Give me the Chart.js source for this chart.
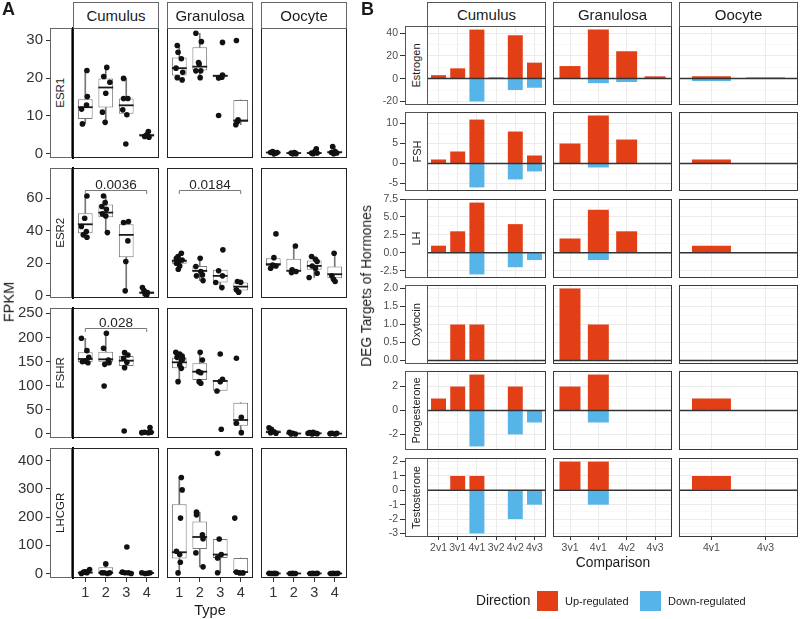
<!DOCTYPE html>
<html>
<head>
<meta charset="utf-8">
<script src="https://cdn.jsdelivr.net/npm/chart.js@4.4.1/dist/chart.umd.min.js"></script>
<style>
  body { margin: 0; background: #fff; }
  #fig { position: relative; width: 800px; height: 619px; overflow: hidden; background: #fff;
         font-family: "Liberation Sans", Arial, sans-serif; color: #1a1a1a; }
  #fig canvas { position: absolute; }
  .txt { position: absolute; white-space: nowrap; line-height: 1; }
  .strip { position: absolute; box-sizing: border-box; background: #fff; border: 1px solid #666;
           display: flex; align-items: center; justify-content: center; z-index: 2; }
  .strip span { white-space: nowrap; flex-shrink: 0; line-height: 1; }
  .strip.side span { transform: rotate(-90deg); }
  .key { position: absolute; width: 21px; height: 20px; }
</style>
</head>
<body>
<div id="fig"></div>
<script>
/* ---------------- Panel A: FPKM by follicle type ---------------- */
const types = [1, 2, 3, 4];
const tissues = ['Cumulus', 'Granulosa', 'Oocyte'];
const genes = ['ESR1', 'ESR2', 'FSHR', 'LHCGR'];
const geneYMin = [-1.1, -1.3, -8.3, -16];
const geneYMax = [33.2, 78.6, 261, 445];
const geneTicks = [[0, 10, 20, 30], [0, 20, 40, 60], [0, 50, 100, 150, 200, 250], [0, 100, 200, 300, 400]];

// box per type: [lower whisker, q1, median, q3, upper whisker]
const boxESR1 = {
    Cumulus: [[7.9, 9.2, 12.3, 14.4, 22.0], [8.3, 12.2, 17.5, 19.9, 22.8], [10.3, 10.6, 12.8, 14.6, 19.9], [4.4, 4.5, 4.9, 5.3, 5.9]],
    Granulosa: [[19.5, 20.7, 22.6, 25.4, 28.6], [20.1, 22.0, 23.0, 28.1, 31.8], [20.0, 20.2, 20.6, 20.8, 20.8], [7.7, 8.4, 8.8, 14.2, 14.2]],
    Oocyte: [[0.0, 0.15, 0.35, 0.45, 0.6], [0.0, 0.1, 0.2, 0.3, 0.35], [0.05, 0.1, 0.2, 0.5, 1.3], [0.05, 0.2, 0.4, 0.8, 1.9]]
};
const boxESR2 = {
    Cumulus: [[35.8, 38.5, 44.0, 50.8, 61.4], [38.9, 48.3, 51.2, 56.1, 61.4], [3.1, 23.8, 37.5, 44.0, 45.7], [0.6, 1.2, 2.0, 2.7, 3.3]],
    Granulosa: [[16.4, 19.7, 21.5, 22.5, 26.2], [9.4, 14.5, 15.4, 18.4, 23.1], [5.1, 8.2, 12.3, 16.0, 16.0], [2.3, 3.3, 5.7, 8.2, 8.8]],
    Oocyte: [[17.0, 18.4, 19.5, 23.1, 23.5], [14.3, 15.4, 15.4, 22.9, 30.7], [11.3, 16.0, 18.4, 21.7, 24.2], [8.8, 10.9, 13.3, 18.0, 26.2]]
};
const boxFSHR = {
    Cumulus: [[147, 148.5, 155.4, 169.2, 198.2], [144, 149.9, 154.7, 170.6, 208.6], [137.4, 140.9, 151.9, 161.6, 168.5], [2.8, 2.8, 3.5, 4.5, 6]],
    Granulosa: [[108.4, 136, 148.5, 158.1, 169.2], [105, 111.9, 129.1, 146.4, 169.2], [89, 89.8, 109.8, 111.9, 113.3], [2.8, 17.3, 29, 64.9, 64.9]],
    Oocyte: [[0.5, 2, 4, 8, 13], [0, 0.3, 1, 2, 3.5], [0, 0.5, 1.4, 2.5, 3.5], [0, 0.3, 0.8, 1.2, 1.4]]
};
const boxLHCGR = {
    Cumulus: [[0, 1, 3, 6, 14], [0, 1, 2.4, 22, 34], [0, 1, 2.4, 4.7, 4.7], [0, 0.5, 1.5, 2.4, 2.4]],
    Granulosa: [[2, 52.9, 75.3, 245.9, 340], [23.5, 87, 129.4, 184.7, 217.6], [2.4, 55.3, 67.1, 122.4, 122.4], [2, 2, 5, 55, 55]],
    Oocyte: [[0, 0, 0.2, 0.4, 0.5], [0, 0, 0.1, 0.3, 0.3], [0, 0, 0.2, 0.4, 0.5], [0, 0, 0.2, 0.4, 0.5]]
};

// jittered samples: [type + jitter, FPKM]
const ptsESR1 = {
    Cumulus: [[1.08, 22.0], [1.1, 15.1], [1.06, 12.9], [0.82, 11.8], [0.86, 7.9],
        [2.05, 22.8], [1.9, 20.4], [2.2, 18.9], [2.0, 16.0], [1.84, 11.0], [1.97, 8.3],
        [2.87, 19.9], [2.87, 14.6], [3.08, 14.6], [2.83, 11.6], [3.03, 10.3], [2.98, 2.6],
        [4.08, 5.9], [3.9, 4.6], [4.11, 4.4], [4.0, 5.0]],
    Granulosa: [[0.9, 28.6], [0.94, 26.8], [1.1, 25.1], [0.84, 22.6], [1.17, 21.5], [0.9, 20.1], [1.14, 19.5],
        [1.81, 31.8], [2.08, 29.6], [1.94, 24.1], [1.97, 23.7], [1.81, 21.9], [2.05, 21.9], [2.02, 20.1],
        [3.11, 29.4], [3.11, 20.8], [3.08, 20.2], [2.92, 20.0], [2.92, 10.1],
        [3.79, 29.9], [3.87, 9.0], [3.84, 8.5], [3.76, 7.7]],
    Oocyte: [[0.87, 0.35], [0.97, 0.6], [1.13, 0.2], [1.03, 0.0], [1.19, 0.35],
        [1.87, 0.2], [2.03, 0.35], [2.11, 0.05], [1.95, 0.0],
        [3.1, 1.3], [3.03, 0.6], [2.87, 0.2], [2.94, 0.05], [3.14, 0.2],
        [3.9, 1.9], [4.02, 0.6], [4.1, 0.2], [3.84, 0.35], [3.95, 0.05]]
};
const ptsESR2 = {
    Cumulus: [[1.08, 61.4], [0.97, 47.7], [0.81, 42.6], [1.05, 39.5], [0.9, 37.5], [1.08, 36.0],
        [1.89, 61.4], [1.97, 57.3], [1.81, 54.9], [2.03, 53.2], [1.84, 50.4], [2.0, 49.1], [2.08, 38.9],
        [2.87, 45.1], [3.11, 45.7], [3.08, 33.8], [2.98, 21.1], [2.95, 3.1],
        [3.79, 5.1], [3.87, 3.3], [4.03, 2.0], [3.92, 1.2], [4.0, 0.6]],
    Granulosa: [[1.1, 26.2], [0.94, 24.2], [0.86, 23.1], [1.14, 22.1], [0.98, 21.1], [0.86, 20.1], [1.02, 18.4], [0.95, 16.4],
        [2.02, 23.1], [1.81, 18.0], [2.05, 15.0], [2.13, 12.9], [1.84, 12.3], [2.16, 9.4],
        [3.13, 28.3], [2.92, 15.4], [3.11, 12.3], [2.78, 8.2], [3.08, 5.1],
        [3.84, 8.8], [4.0, 8.4], [3.79, 3.7], [3.9, 2.3]],
    Oocyte: [[1.13, 38.1], [1.03, 23.5], [0.87, 17.0], [0.97, 19.0], [1.13, 18.4],
        [2.08, 30.7], [1.92, 16.0], [1.89, 14.3], [2.11, 15.0],
        [2.87, 24.2], [3.06, 22.5], [3.14, 21.1], [2.9, 18.4], [3.06, 17.0], [3.14, 13.9], [2.75, 11.3],
        [3.97, 26.2], [3.86, 12.3], [3.94, 10.2], [4.02, 8.8]]
};
const ptsFSHR = {
    Cumulus: [[0.81, 198.2], [1.08, 172.7], [1.17, 159], [0.86, 149.5], [1.0, 151], [1.13, 147.5],
        [2.03, 208.6], [1.89, 177.5], [2.13, 153.3], [1.95, 144.3], [2.16, 147.8], [1.92, 99.4],
        [2.92, 168.5], [3.08, 163.7], [2.87, 156.8], [3.03, 148.5], [2.92, 137.4], [2.9, 6.2],
        [4.16, 13.1], [3.89, 3.5], [4.08, 2.8], [4.21, 3.5], [3.76, 2.8]],
    Granulosa: [[0.83, 169.2], [1.02, 165.7], [1.14, 161.6], [0.89, 158.8], [1.1, 152], [1.02, 143], [1.1, 136], [0.94, 108.4], [1.17, 156],
        [2.02, 169.2], [2.13, 153.3], [1.94, 129.1], [2.05, 127], [1.97, 108.4], [2.05, 105],
        [3.0, 165.7], [3.11, 113.3], [3.0, 108.4], [2.84, 89], [3.05, 9.7],
        [3.79, 156.8], [4.03, 34.5], [3.79, 22.1], [4.03, 2.8]],
    Oocyte: [[0.79, 13], [0.9, 9.7], [1.03, 4.8], [0.87, 2.8], [1.13, 1.4],
        [1.79, 3.5], [1.95, 1.4], [2.08, 0], [1.87, 0.2],
        [2.78, 2.8], [2.94, 3.5], [3.06, 1.4], [2.9, 0], [3.14, 0.7], [2.7, 1.4],
        [3.86, 1.4], [4.02, 0], [4.1, 1.4], [3.78, 0.7]]
};
const ptsLHCGR = {
    Cumulus: [[0.81, 0], [0.92, 4.7], [1.08, 2.4], [1.21, 14], [1.02, 6],
        [2.0, 34], [1.81, 2.4], [1.92, 2.4], [2.08, 0], [2.19, 2.4],
        [3.03, 94], [2.81, 4.7], [2.94, 2.4], [3.11, 2.4], [3.24, 0],
        [3.76, 2.4], [3.92, 0], [4.16, 2.4], [4.05, 1]],
    Granulosa: [[1.1, 340], [1.14, 296.5], [1.06, 196.5], [0.86, 78.8], [1.02, 67], [1.05, 40], [0.94, 2],
        [1.84, 217.6], [1.84, 208], [2.13, 137.6], [2.16, 123.5], [1.81, 73], [2.16, 23.5],
        [2.87, 426], [2.95, 122.4], [3.05, 67], [2.87, 55.3], [2.87, 2.4],
        [3.71, 196.5], [3.79, 5], [3.95, 2], [4.11, 2]],
    Oocyte: [[0.8, 0.5], [0.92, 0], [1.05, 0.3], [1.15, 0],
        [1.82, 0], [1.95, 0.3], [2.08, 0],
        [2.8, 0], [2.92, 0.3], [3.05, 0], [3.15, 0.5],
        [3.8, 0], [3.92, 0.3], [4.05, 0], [4.15, 0.5]]
};
const boxStats = { ESR1: boxESR1, ESR2: boxESR2, FSHR: boxFSHR, LHCGR: boxLHCGR };
const jitterPts = { ESR1: ptsESR1, ESR2: ptsESR2, FSHR: ptsFSHR, LHCGR: ptsLHCGR };

// significance brackets: gene, tissue, from type, to type, height, p-value
const sigBrackets = [
    ['ESR2', 'Cumulus', 1, 4, 65.1, '0.0036'],
    ['ESR2', 'Granulosa', 1, 4, 65.1, '0.0184'],
    ['FSHR', 'Cumulus', 1, 4, 219, '0.028']
];

/* ---------------- Panel B: DEG targets of hormones ---------------- */
const hormones = ['Estrogen', 'FSH', 'LH', 'Oxytocin', 'Progesterone', 'Testosterone'];
const comparisons = {
    Cumulus: ['2v1', '3v1', '4v1', '3v2', '4v2', '4v3'],
    Granulosa: ['3v1', '4v1', '4v2', '4v3'],
    Oocyte: ['4v1', '4v3']
};
const upEstrogen = { Cumulus: [3, 9, 43, 1, 38, 14], Granulosa: [11, 43, 24, 2], Oocyte: [2, 1] };
const downEstrogen = { Cumulus: [0, 0, -20, 0, -10, -8], Granulosa: [0, -4, -3, 0], Oocyte: [-2, 0] };
const upFSH = { Cumulus: [1, 3, 11, 0, 8, 2], Granulosa: [5, 12, 6, 0], Oocyte: [1, 0] };
const downFSH = { Cumulus: [0, 0, -6, 0, -4, -2], Granulosa: [0, -1, 0, 0], Oocyte: [0, 0] };
const upLH = { Cumulus: [1, 3, 7, 0, 4, 0], Granulosa: [2, 6, 3, 0], Oocyte: [1, 0] };
const downLH = { Cumulus: [0, 0, -3, 0, -2, -1], Granulosa: [0, -1, 0, 0], Oocyte: [0, 0] };
const upOxytocin = { Cumulus: [0, 1, 1, 0, 0, 0], Granulosa: [2, 1, 0, 0], Oocyte: [0, 0] };
const downOxytocin = { Cumulus: [0, 0, 0, 0, 0, 0], Granulosa: [0, 0, 0, 0], Oocyte: [0, 0] };
const upProgesterone = { Cumulus: [1, 2, 3, 0, 2, 0], Granulosa: [2, 3, 0, 0], Oocyte: [1, 0] };
const downProgesterone = { Cumulus: [0, 0, -3, 0, -2, -1], Granulosa: [0, -1, 0, 0], Oocyte: [0, 0] };
const upTestosterone = { Cumulus: [0, 1, 1, 0, 0, 0], Granulosa: [2, 2, 0, 0], Oocyte: [1, 0] };
const downTestosterone = { Cumulus: [0, 0, -3, 0, -2, -1], Granulosa: [0, -1, 0, 0], Oocyte: [0, 0] };
const upData = { Estrogen: upEstrogen, FSH: upFSH, LH: upLH, Oxytocin: upOxytocin, Progesterone: upProgesterone, Testosterone: upTestosterone };
const downData = { Estrogen: downEstrogen, FSH: downFSH, LH: downLH, Oxytocin: downOxytocin, Progesterone: downProgesterone, Testosterone: downTestosterone };

const hormoneYMin = [-23.15, -6.9, -3.5, -0.1, -3.3, -3.25];
const hormoneYMax = [46.15, 12.9, 7.5, 2.1, 3.3, 2.25];
const hormoneTicks = [[-20, 0, 20, 40], [-5, 0, 5, 10], [-2.5, 0, 2.5, 5, 7.5], [0, 0.5, 1, 1.5, 2], [-2, 0, 2], [-3, -2, -1, 0, 1, 2]];
const hormoneTickLabels = [['-20', '0', '20', '40'], ['-5', '0', '5', '10'], ['-2.5', '0.0', '2.5', '5.0', '7.5'],
    ['0.0', '0.5', '1.0', '1.5', '2.0'], ['-2', '0', '2'], ['-3', '-2', '-1', '0', '1', '2']];
const hormoneMinor = [[-10, 10, 30], [-2.5, 2.5, 7.5, 12.5], [-1.25, 1.25, 3.75, 6.25], [0.25, 0.75, 1.25, 1.75], [-3, -1, 1, 3], [-2.5, -1.5, -0.5, 0.5, 1.5]];

/* ---------------- layout ---------------- */
const colLeftA = [73, 167, 261], colWA = 86;
const rowTopA = [28, 168, 308, 448], rowHA = 130;
const colLeftB = [427, 553, 679], colWB = 119;
const rowTopB = [26, 112, 199, 285, 371, 458], rowHB = 79;
const barPct = [0.78, 0.74, 0.72];
const upColor = '#E23F16', downColor = '#56B4E9';
const PAD = 16;

const fig = document.getElementById('fig');
Chart.defaults.font.family = '"Liberation Sans", Arial, sans-serif';
Chart.defaults.animation = false;
Chart.defaults.plugins.legend.display = false;
Chart.defaults.plugins.tooltip.enabled = false;

const framePlugin = {
    id: 'frame',
    afterDraw(chart, args, opts) {
        const a = chart.chartArea, ctx = chart.ctx;
        ctx.save();
        ctx.strokeStyle = opts.color || '#333';
        ctx.lineWidth = 1;
        ctx.strokeRect(Math.round(a.left) + 0.5, Math.round(a.top) + 0.5,
            Math.round(a.right - a.left) - 1, Math.round(a.bottom - a.top) - 1);
        ctx.restore();
    }
};

const zeroLinePlugin = {
    id: 'zeroLine',
    afterDatasetsDraw(chart) {
        const { ctx, chartArea: a, scales: { y } } = chart;
        const y0 = y.getPixelForValue(0);
        ctx.save();
        ctx.strokeStyle = '#333';
        ctx.lineWidth = 1.5;
        ctx.beginPath();
        ctx.moveTo(a.left, y0);
        ctx.lineTo(a.right, y0);
        ctx.stroke();
        ctx.restore();
    }
};

const bracketPlugin = {
    id: 'brackets',
    afterDatasetsDraw(chart, args, opts) {
        const { ctx, scales: { x, y } } = chart;
        (opts.items || []).forEach(b => {
            const x1 = x.getPixelForValue(b[2]), x2 = x.getPixelForValue(b[3]);
            const yy = Math.round(y.getPixelForValue(b[4])) + 0.5;
            ctx.save();
            ctx.strokeStyle = '#777';
            ctx.lineWidth = 1;
            ctx.beginPath();
            ctx.moveTo(x1, yy + 3.5); ctx.lineTo(x1, yy); ctx.lineTo(x2, yy); ctx.lineTo(x2, yy + 3.5);
            ctx.stroke();
            ctx.fillStyle = '#222';
            ctx.font = '13.5px "Liberation Sans", Arial, sans-serif';
            ctx.textAlign = 'center';
            ctx.textBaseline = 'alphabetic';
            ctx.fillText(b[5], (x1 + x2) / 2, yy - 1.5);
            ctx.restore();
        });
    }
};

function mountCanvas(left, top, width, height) {
    const c = document.createElement('canvas');
    c.width = width; c.height = height;
    c.style.left = left + 'px'; c.style.top = top + 'px';
    c.style.width = width + 'px'; c.style.height = height + 'px';
    fig.appendChild(c);
    return c;
}

function boxPanel(gi, ti) {
    const gene = genes[gi], tissue = tissues[ti];
    const firstCol = ti === 0, lastRow = gi === genes.length - 1;
    const axisW = firstCol ? colLeftA[0] : 0, axisH = lastRow ? 26 : 0;
    const padL = firstCol ? 0 : PAD, padB = lastRow ? 0 : PAD;
    const cv = mountCanvas(colLeftA[ti] - (firstCol ? axisW : PAD), rowTopA[gi] - PAD,
        (firstCol ? axisW : PAD) + colWA + PAD, PAD + rowHA + (lastRow ? axisH : PAD));
    const stats = boxStats[gene][tissue];
    const pts = jitterPts[gene][tissue];

    new Chart(cv, {
        type: 'scatter',
        data: {
            datasets: [
                { type: 'scatter', order: 0, data: pts.map(p => ({ x: p[0], y: p[1] })),
                  pointRadius: 2.8, pointBackgroundColor: '#111', pointBorderWidth: 0 },
                { type: 'scatter', order: 1, data: stats.map((b, i) => ({ x: types[i], y: b[2] })),
                  pointStyle: 'line', pointRadius: 7.4, pointBorderColor: '#1a1a1a', pointBorderWidth: 1.8 },
                { type: 'bar', order: 2, data: stats.map((b, i) => ({ x: types[i], y: [b[1], b[3]] })),
                  backgroundColor: '#fff', borderColor: '#777', borderWidth: 1, borderSkipped: false,
                  grouped: false, categoryPercentage: 1, barPercentage: 0.72 },
                { type: 'bar', order: 3, data: stats.map((b, i) => ({ x: types[i], y: [b[0], b[1]] })),
                  backgroundColor: '#777', grouped: false, barThickness: 1 },
                { type: 'bar', order: 3, data: stats.map((b, i) => ({ x: types[i], y: [b[3], b[4]] })),
                  backgroundColor: '#777', grouped: false, barThickness: 1 }
            ]
        },
        options: {
            responsive: false, devicePixelRatio: 1,
            layout: { autoPadding: false, padding: { left: padL, right: PAD, top: PAD, bottom: padB } },
            scales: {
                x: {
                    type: 'linear', min: 0.4, max: 4.6, bounds: 'data', offset: false, display: lastRow,
                    afterBuildTicks: s => { s.ticks = types.map(v => ({ value: v })); },
                    afterFit: s => { s.height = axisH; },
                    grid: { drawOnChartArea: false, tickLength: 4, color: '#333', offset: false },
                    border: { display: false },
                    ticks: { autoSkip: false, maxRotation: 0, minRotation: 0, padding: 2, color: '#333',
                             font: { size: 14.5 }, callback: v => String(v) }
                },
                y: {
                    type: 'linear', min: geneYMin[gi], max: geneYMax[gi], bounds: 'data', display: firstCol,
                    afterBuildTicks: s => { s.ticks = geneTicks[gi].map(v => ({ value: v })); },
                    afterFit: s => { s.width = axisW; },
                    grid: { drawOnChartArea: false, tickLength: 27, color: '#333' },
                    border: { display: true, color: '#000', width: 2 },
                    ticks: { autoSkip: false, padding: 3, color: '#333', font: { size: 15 }, callback: v => String(v) }
                }
            },
            plugins: {
                frame: { color: '#222' },
                brackets: { items: sigBrackets.filter(b => b[0] === gene && b[1] === tissue) }
            }
        },
        plugins: [framePlugin, bracketPlugin]
    });
}

function barPanel(hi, ti) {
    const hormone = hormones[hi], tissue = tissues[ti];
    const cats = comparisons[tissue];
    const xs = cats.map((c, i) => i);
    const firstCol = ti === 0, lastRow = hi === hormones.length - 1;
    const axisW = firstCol ? 55 : 0, axisH = lastRow ? 18 : 0;
    const padL = firstCol ? 0 : PAD, padB = lastRow ? 0 : PAD;
    const cv = mountCanvas(colLeftB[ti] - (firstCol ? axisW : PAD), rowTopB[hi] - PAD,
        (firstCol ? axisW : PAD) + colWB + PAD, PAD + rowHB + (lastRow ? axisH : PAD));
    const major = hormoneTicks[hi];
    const allTicks = major.concat(hormoneMinor[hi]).sort((a, b) => a - b);
    const isMajor = c => c.tick && major.includes(c.tick.value);
    const up = upData[hormone][tissue], down = downData[hormone][tissue];

    new Chart(cv, {
        type: 'bar',
        data: {
            datasets: [
                { label: 'Up-regulated', data: xs.map(i => ({ x: i, y: up[i] })), backgroundColor: upColor,
                  borderWidth: 0, grouped: false, categoryPercentage: 1, barPercentage: barPct[ti] },
                { label: 'Down-regulated', data: xs.map(i => ({ x: i, y: down[i] })), backgroundColor: downColor,
                  borderWidth: 0, grouped: false, categoryPercentage: 1, barPercentage: barPct[ti] }
            ]
        },
        options: {
            responsive: false, devicePixelRatio: 1,
            layout: { autoPadding: false, padding: { left: padL, right: PAD, top: PAD, bottom: padB } },
            scales: {
                x: {
                    type: 'linear', min: -0.6, max: cats.length - 0.4, bounds: 'data', offset: false,
                    afterBuildTicks: s => { s.ticks = xs.map(v => ({ value: v })); },
                    afterFit: s => { s.height = axisH; },
                    grid: { color: '#EBEBEB', lineWidth: 1, offset: false, drawTicks: lastRow, tickLength: 3, tickColor: '#333' },
                    border: { display: false },
                    ticks: { display: lastRow, autoSkip: false, maxRotation: 0, minRotation: 0, padding: 2,
                             color: '#4d4d4d', font: { size: 10.5 }, callback: v => cats[v] }
                },
                y: {
                    type: 'linear', min: hormoneYMin[hi], max: hormoneYMax[hi], bounds: 'data',
                    afterBuildTicks: s => { s.ticks = allTicks.map(v => ({ value: v })); },
                    afterFit: s => { s.width = axisW; },
                    grid: {
                        color: c => isMajor(c) ? '#EBEBEB' : '#F4F4F4',
                        lineWidth: c => isMajor(c) ? 1 : 0.6,
                        drawTicks: firstCol, tickLength: 27, tickWidth: 1,
                        tickColor: c => isMajor(c) ? '#333' : 'rgba(0,0,0,0)'
                    },
                    border: { display: false },
                    ticks: {
                        display: firstCol, autoSkip: false, padding: 2, color: '#4d4d4d', font: { size: 10.5 },
                        callback: v => { const k = major.indexOf(v); return k < 0 ? '' : hormoneTickLabels[hi][k]; }
                    }
                }
            },
            plugins: { frame: { color: '#3a3a3a' } }
        },
        plugins: [framePlugin, zeroLinePlugin]
    });
}

genes.forEach((g, gi) => tissues.forEach((t, ti) => boxPanel(gi, ti)));
hormones.forEach((h, hi) => tissues.forEach((t, ti) => barPanel(hi, ti)));

/* ---------------- strips and text ---------------- */
function addText(str, x, y, size, opt = {}) {
    const d = document.createElement('div');
    d.className = 'txt';
    d.textContent = str;
    d.style.left = x + 'px';
    d.style.top = y + 'px';
    d.style.fontSize = size + 'px';
    if (opt.rotate) d.style.transform = 'translate(-50%,-50%) rotate(-90deg)';
    else if (opt.anchor === 'left') d.style.transform = 'translate(0,-50%)';
    else d.style.transform = 'translate(-50%,-50%)';
    if (opt.bold) d.style.fontWeight = 'bold';
    if (opt.color) d.style.color = opt.color;
    fig.appendChild(d);
}

function addStrip(str, left, top, w, h, size, side, border) {
    const d = document.createElement('div');
    d.className = 'strip' + (side ? ' side' : '');
    d.style.left = left + 'px'; d.style.top = top + 'px';
    d.style.width = w + 'px'; d.style.height = h + 'px';
    d.style.borderColor = border;
    const s = document.createElement('span');
    s.textContent = str;
    s.style.fontSize = size + 'px';
    d.appendChild(s);
    fig.appendChild(d);
}

tissues.forEach((t, i) => addStrip(t, colLeftA[i], 2, colWA, 27, 15, false, '#666'));
genes.forEach((g, i) => addStrip(g, 50, rowTopA[i], 22, rowHA, 11.5, true, '#666'));
tissues.forEach((t, i) => addStrip(t, colLeftB[i], 2, colWB, 25, 15, false, '#555'));
hormones.forEach((h, i) => addStrip(h, 405, rowTopB[i], 23, rowHB, 11, true, '#555'));

addText('A', 2, 9, 18, { anchor: 'left', bold: true });
addText('B', 361, 9, 18, { anchor: 'left', bold: true });
addText('FPKM', 9, 302, 14.5, { rotate: true });
addText('Type', 210, 610, 14.5);
addText('DEG Targets of Hormones', 367, 286, 13.8, { rotate: true });
addText('Comparison', 613, 563, 13.8);

// legend
addText('Direction', 476, 601, 13.8, { anchor: 'left' });
[[upColor, 537, 'Up-regulated', 565], [downColor, 640, 'Down-regulated', 668]].forEach(k => {
    const sw = document.createElement('div');
    sw.className = 'key';
    sw.style.left = k[1] + 'px'; sw.style.top = '591px'; sw.style.background = k[0];
    fig.appendChild(sw);
    addText(k[2], k[3], 601, 11, { anchor: 'left' });
});
</script>
</body>
</html>
